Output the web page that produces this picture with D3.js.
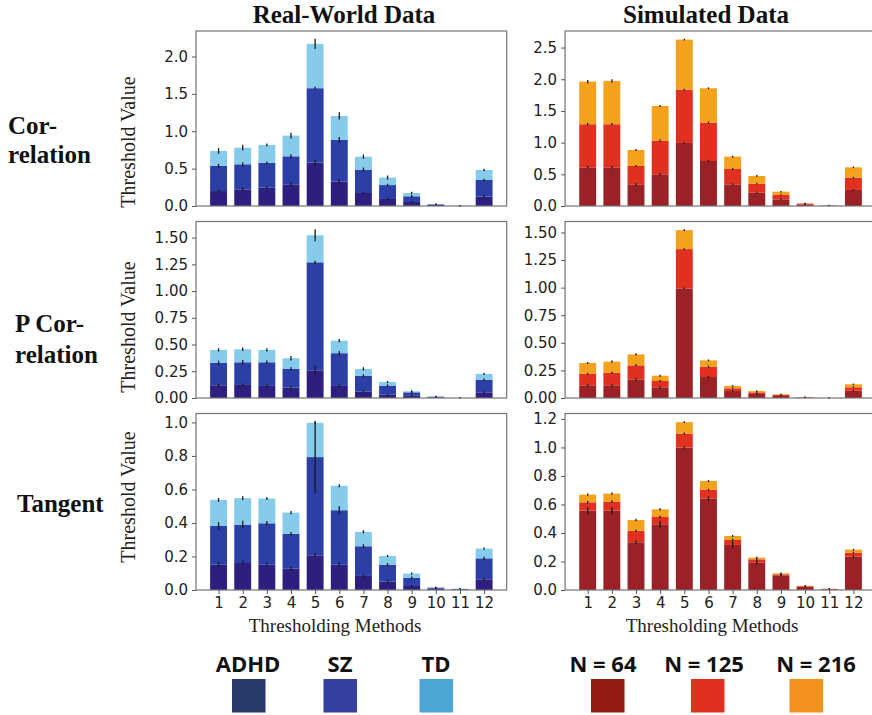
<!DOCTYPE html>
<html>
<head>
<meta charset="utf-8">
<script src="https://cdn.jsdelivr.net/npm/d3@7"></script>
<style>
  html, body { margin: 0; padding: 0; background: #fff; }
  svg { display: block; }
</style>
</head>
<body>
<svg id="chart" width="872" height="715"></svg>
<script>
// Thresholding methods on the x axis
const methods = [1, 2, 3, 4, 5, 6, 7, 8, 9, 10, 11, 12];

// Group names (stack order: bottom to top)
const realGroups = ["ADHD", "SZ", "TD"];
const simGroups = ["N = 64", "N = 125", "N = 216"];

// ---- Real-world data: per-group threshold contributions ----
// Correlation
const realCorrADHD = [0.200, 0.223, 0.245, 0.290, 0.580, 0.326, 0.174, 0.094, 0.054, 0.013, 0.001, 0.125];
const realCorrSZ   = [0.336, 0.335, 0.331, 0.375, 0.996, 0.558, 0.313, 0.186, 0.076, 0.009, 0.001, 0.223];
const realCorrTD   = [0.201, 0.222, 0.241, 0.277, 0.594, 0.321, 0.173, 0.100, 0.044, 0.005, 0.001, 0.134];
const realCorrErrADHD = [0.02, 0.02, 0.01, 0.02, 0.03, 0.02, 0.01, 0.01, 0.005, 0, 0, 0.01];
const realCorrErrSZ   = [0.02, 0.02, 0.01, 0.02, 0.01, 0.03, 0.02, 0.01, 0.01, 0, 0, 0.01];
const realCorrErrTD   = [0.03, 0.03, 0.01, 0.03, 0.06, 0.04, 0.02, 0.02, 0.01, 0, 0, 0.01];
// Partial correlation
const realPCorrADHD = [0.119, 0.122, 0.113, 0.097, 0.259, 0.113, 0.059, 0.031, 0.025, 0.006, 0, 0.053];
const realPCorrSZ   = [0.209, 0.212, 0.221, 0.175, 1.010, 0.306, 0.147, 0.085, 0.028, 0.006, 0, 0.119];
const realPCorrTD   = [0.122, 0.122, 0.116, 0.100, 0.253, 0.118, 0.066, 0.034, 0.010, 0.004, 0, 0.053];
const realPCorrErrADHD = [0.01, 0.01, 0.01, 0.01, 0.04, 0.01, 0.005, 0.005, 0, 0, 0, 0.005];
const realPCorrErrSZ   = [0.015, 0.015, 0.01, 0.01, 0.01, 0.015, 0.01, 0.005, 0.005, 0, 0, 0.005];
const realPCorrErrTD   = [0.01, 0.01, 0.01, 0.015, 0.05, 0.01, 0.01, 0.005, 0.005, 0, 0, 0.005];
// Tangent
const realTanADHD = [0.151, 0.161, 0.151, 0.127, 0.207, 0.151, 0.084, 0.050, 0.024, 0.008, 0.003, 0.064];
const realTanSZ   = [0.231, 0.229, 0.247, 0.208, 0.586, 0.325, 0.177, 0.101, 0.048, 0.006, 0.003, 0.125];
const realTanTD   = [0.156, 0.158, 0.148, 0.127, 0.205, 0.146, 0.086, 0.052, 0.026, 0.002, 0.002, 0.058];
const realTanErrADHD = [0.01, 0.01, 0.008, 0.01, 0.01, 0.008, 0.005, 0.005, 0.003, 0, 0, 0.004];
const realTanErrSZ   = [0.02, 0.02, 0.01, 0.008, 0.21, 0.02, 0.008, 0.006, 0.005, 0, 0, 0.006];
const realTanErrTD   = [0.008, 0.008, 0.006, 0.006, 0.005, 0.006, 0.006, 0.003, 0.003, 0, 0, 0.003];

// ---- Simulated data ----
// Correlation
const simCorrN64  = [0.610, 0.610, 0.342, 0.500, 0.995, 0.710, 0.342, 0.210, 0.105, 0.026, 0.004, 0.253];
const simCorrN125 = [0.680, 0.680, 0.290, 0.532, 0.842, 0.606, 0.242, 0.143, 0.069, 0.011, 0.002, 0.194];
const simCorrN216 = [0.673, 0.684, 0.252, 0.547, 0.789, 0.542, 0.195, 0.121, 0.052, 0.005, 0.004, 0.163];
const simCorrErrN64  = [0.01, 0.01, 0.008, 0.008, 0.004, 0.006, 0.006, 0.004, 0.003, 0, 0, 0.004];
const simCorrErrN125 = [0.01, 0.01, 0.006, 0.008, 0.004, 0.006, 0.005, 0.004, 0.003, 0, 0, 0.004];
const simCorrErrN216 = [0.015, 0.015, 0.006, 0.006, 0.004, 0.005, 0.005, 0.004, 0.003, 0, 0, 0.004];
// Partial correlation
const simPCorrN64  = [0.115, 0.115, 0.169, 0.097, 0.993, 0.190, 0.063, 0.036, 0.018, 0.003, 0, 0.066];
const simPCorrN125 = [0.105, 0.114, 0.127, 0.057, 0.356, 0.094, 0.025, 0.015, 0.009, 0.003, 0, 0.031];
const simPCorrN216 = [0.097, 0.100, 0.099, 0.048, 0.172, 0.057, 0.021, 0.012, 0.006, 0.003, 0, 0.027];
const simPCorrErrN64  = [0.005, 0.005, 0.005, 0.005, 0.002, 0.004, 0.002, 0.002, 0, 0, 0, 0.002];
const simPCorrErrN125 = [0.004, 0.004, 0.004, 0.003, 0.003, 0.003, 0.002, 0.002, 0, 0, 0, 0.002];
const simPCorrErrN216 = [0.004, 0.005, 0.004, 0.003, 0.002, 0.003, 0.002, 0.002, 0, 0, 0, 0.002];
// Tangent
const simTanN64  = [0.557, 0.557, 0.335, 0.461, 0.999, 0.641, 0.316, 0.194, 0.103, 0.021, 0.005, 0.234];
const simTanN125 = [0.058, 0.063, 0.081, 0.051, 0.098, 0.061, 0.035, 0.021, 0.007, 0.005, 0.002, 0.028];
const simTanN216 = [0.054, 0.056, 0.075, 0.054, 0.080, 0.063, 0.028, 0.012, 0.007, 0.004, 0.002, 0.021];
const simTanErrN64  = [0.02, 0.02, 0.008, 0.02, 0.004, 0.01, 0.02, 0.01, 0.004, 0, 0, 0.006];
const simTanErrN125 = [0.005, 0.005, 0.005, 0.005, 0.004, 0.004, 0.004, 0.003, 0.002, 0, 0, 0.003];
const simTanErrN216 = [0.003, 0.003, 0.005, 0.004, 0.002, 0.003, 0.003, 0.002, 0.002, 0, 0, 0.002];

// Y tick values per panel
const ticksRealCorr = [0, 0.5, 1.0, 1.5, 2.0];
const ticksSimCorr = [0, 0.5, 1.0, 1.5, 2.0, 2.5];
const ticksPCorr = [0, 0.25, 0.5, 0.75, 1.0, 1.25, 1.5];
const ticksRealTan = [0, 0.2, 0.4, 0.6, 0.8, 1.0];
const ticksSimTan = [0, 0.2, 0.4, 0.6, 0.8, 1.0, 1.2];

// Colours
const realBarColors = ["#2d1f7e", "#2b3fa6", "#87cbea"];
const simBarColors = ["#9a2126", "#e03120", "#f4a11e"];
const realLegendColors = ["#253a66", "#3440a0", "#4ba6d6"];
const simLegendColors = ["#941d13", "#e1301f", "#f3911f"];

// Row headings
const rowLabels = [["Cor-", "relation"], ["P Cor-", "relation"], ["Tangent"]];
const colTitles = ["Real-World Data", "Simulated Data"];

// ---------------- layout ----------------
const svg = d3.select("#chart");
const cols = [{ x0: 196, x1: 506.7 }, { x0: 565.1, x1: 876 }];
const rows = [{ y0: 31, y1: 206 }, { y0: 221.5, y1: 398 }, { y0: 413.5, y1: 590 }];
const serif = "'Liberation Serif', 'Times New Roman', serif";
const sans = "'DejaVu Sans', sans-serif";

const panels = [
  { row: 0, col: 0, groups: realGroups, colors: realBarColors, vals: [realCorrADHD, realCorrSZ, realCorrTD], errs: [realCorrErrADHD, realCorrErrSZ, realCorrErrTD], ticks: ticksRealCorr, fmt: ".1f" },
  { row: 0, col: 1, groups: simGroups, colors: simBarColors, vals: [simCorrN64, simCorrN125, simCorrN216], errs: [simCorrErrN64, simCorrErrN125, simCorrErrN216], ticks: ticksSimCorr, fmt: ".1f" },
  { row: 1, col: 0, groups: realGroups, colors: realBarColors, vals: [realPCorrADHD, realPCorrSZ, realPCorrTD], errs: [realPCorrErrADHD, realPCorrErrSZ, realPCorrErrTD], ticks: ticksPCorr, fmt: ".2f" },
  { row: 1, col: 1, groups: simGroups, colors: simBarColors, vals: [simPCorrN64, simPCorrN125, simPCorrN216], errs: [simPCorrErrN64, simPCorrErrN125, simPCorrErrN216], ticks: ticksPCorr, fmt: ".2f" },
  { row: 2, col: 0, groups: realGroups, colors: realBarColors, vals: [realTanADHD, realTanSZ, realTanTD], errs: [realTanErrADHD, realTanErrSZ, realTanErrTD], ticks: ticksRealTan, fmt: ".1f" },
  { row: 2, col: 1, groups: simGroups, colors: simBarColors, vals: [simTanN64, simTanN125, simTanN216], errs: [simTanErrN64, simTanErrN125, simTanErrN216], ticks: ticksSimTan, fmt: ".1f" }
];

const barWidth = 0.7;

panels.forEach(p => {
  const c = cols[p.col], r = rows[p.row];
  const table = methods.map((m, i) => {
    const o = { method: m };
    p.groups.forEach((g, k) => { o[g] = p.vals[k][i]; });
    return o;
  });
  const series = d3.stack().keys(p.groups)(table);

  // upper limit: tallest error-bar end plus a 5% margin
  let top = 0;
  series.forEach((s, k) => s.forEach((d, i) => { top = Math.max(top, d[1] + p.errs[k][i]); }));

  const x = d3.scaleLinear().domain([0.065, 12.935]).range([c.x0, c.x1]);
  const y = d3.scaleLinear().domain([0, top * 1.05]).range([r.y1, r.y0]);

  const g = svg.append("g");

  // stacked bars
  g.selectAll("g.layer").data(series).join("g")
    .attr("fill", (s, k) => p.colors[k])
    .selectAll("rect").data(s => s).join("rect")
    .attr("x", d => x(d.data.method - barWidth / 2))
    .attr("width", d => x(barWidth) - x(0))
    .attr("y", d => y(d[1]))
    .attr("height", d => Math.max(0, y(d[0]) - y(d[1])));

  // error bars at each segment top
  series.forEach((s, k) => {
    g.append("g").selectAll("line").data(s).join("line")
      .attr("x1", d => x(d.data.method)).attr("x2", d => x(d.data.method))
      .attr("y1", (d, i) => y(d[1] - p.errs[k][i]) + 0.6)
      .attr("y2", (d, i) => y(d[1] + p.errs[k][i]) - 0.6)
      .attr("stroke", "#1a1a1a").attr("stroke-width", 1.3);
  });

  // frame
  g.append("rect")
    .attr("x", c.x0).attr("y", r.y0)
    .attr("width", c.x1 - c.x0).attr("height", r.y1 - r.y0)
    .attr("fill", "none").attr("stroke", "#767676").attr("stroke-width", 1.2);

  // y axis
  const yAxis = d3.axisLeft(y).tickValues(p.ticks).tickFormat(d3.format(p.fmt)).tickSize(4).tickPadding(4);
  const ya = g.append("g").attr("transform", `translate(${c.x0},0)`).call(yAxis);
  ya.select(".domain").remove();
  ya.selectAll(".tick line").attr("stroke", "#555");
  ya.selectAll(".tick text").attr("font-family", sans).attr("font-size", 15).attr("fill", "#222");

  // x axis only on bottom row
  if (p.row === 2) {
    const xAxis = d3.axisBottom(x).tickValues(methods).tickFormat(d3.format("d")).tickSize(4).tickPadding(3);
    const xa = g.append("g").attr("transform", `translate(0,${r.y1})`).call(xAxis);
    xa.select(".domain").remove();
    xa.selectAll(".tick line").attr("stroke", "#555");
    xa.selectAll(".tick text").attr("font-family", sans).attr("font-size", 15).attr("fill", "#222");
  }
});

// y-axis titles (left column)
const yTitleCenters = [142, 327, 497];
yTitleCenters.forEach(cy => {
  svg.append("text")
    .attr("transform", `translate(135,${cy}) rotate(-90)`)
    .attr("text-anchor", "middle")
    .attr("font-family", serif).attr("font-size", 20).attr("fill", "#222")
    .text("Threshold Value");
});

// x-axis titles
[335, 712].forEach(cx => {
  svg.append("text")
    .attr("x", cx).attr("y", 632)
    .attr("text-anchor", "middle")
    .attr("font-family", serif).attr("font-size", 19).attr("fill", "#222")
    .text("Thresholding Methods");
});

// column titles
[[344, colTitles[0]], [706, colTitles[1]]].forEach(([cx, t]) => {
  svg.append("text")
    .attr("x", cx).attr("y", 23)
    .attr("text-anchor", "middle")
    .attr("font-family", serif).attr("font-size", 25).attr("font-weight", "bold").attr("fill", "#111")
    .text(t);
});

// row headings
const rowLabelPos = [{ x: 8, ys: [134, 163] }, { x: 15, ys: [332, 363] }, { x: 17, ys: [512] }];
rowLabels.forEach((lines, i) => {
  lines.forEach((t, j) => {
    svg.append("text")
      .attr("x", rowLabelPos[i].x).attr("y", rowLabelPos[i].ys[j])
      .attr("font-family", serif).attr("font-size", 25).attr("font-weight", "bold").attr("fill", "#111")
      .text(t);
  });
});

// legends
const legendItems = [
  ...realGroups.map((g, k) => ({ name: g, color: realLegendColors[k], tx: [248, 340, 436][k], sx: [232, 323.5, 419.5][k] })),
  ...simGroups.map((g, k) => ({ name: g, color: simLegendColors[k], tx: [603, 704, 816][k], sx: [591, 691, 789.5][k] }))
];
const lg = svg.append("g");
lg.selectAll("text").data(legendItems).join("text")
  .attr("x", d => d.tx).attr("y", 672)
  .attr("text-anchor", "middle")
  .attr("font-family", "'Open Sans', sans-serif").attr("font-weight", "bold").attr("font-size", 22)
  .attr("fill", "#111")
  .text(d => d.name);
lg.selectAll("rect").data(legendItems).join("rect")
  .attr("x", d => d.sx).attr("y", 679)
  .attr("width", 33.5).attr("height", 33.5)
  .attr("fill", d => d.color);
</script>
</body>
</html>
